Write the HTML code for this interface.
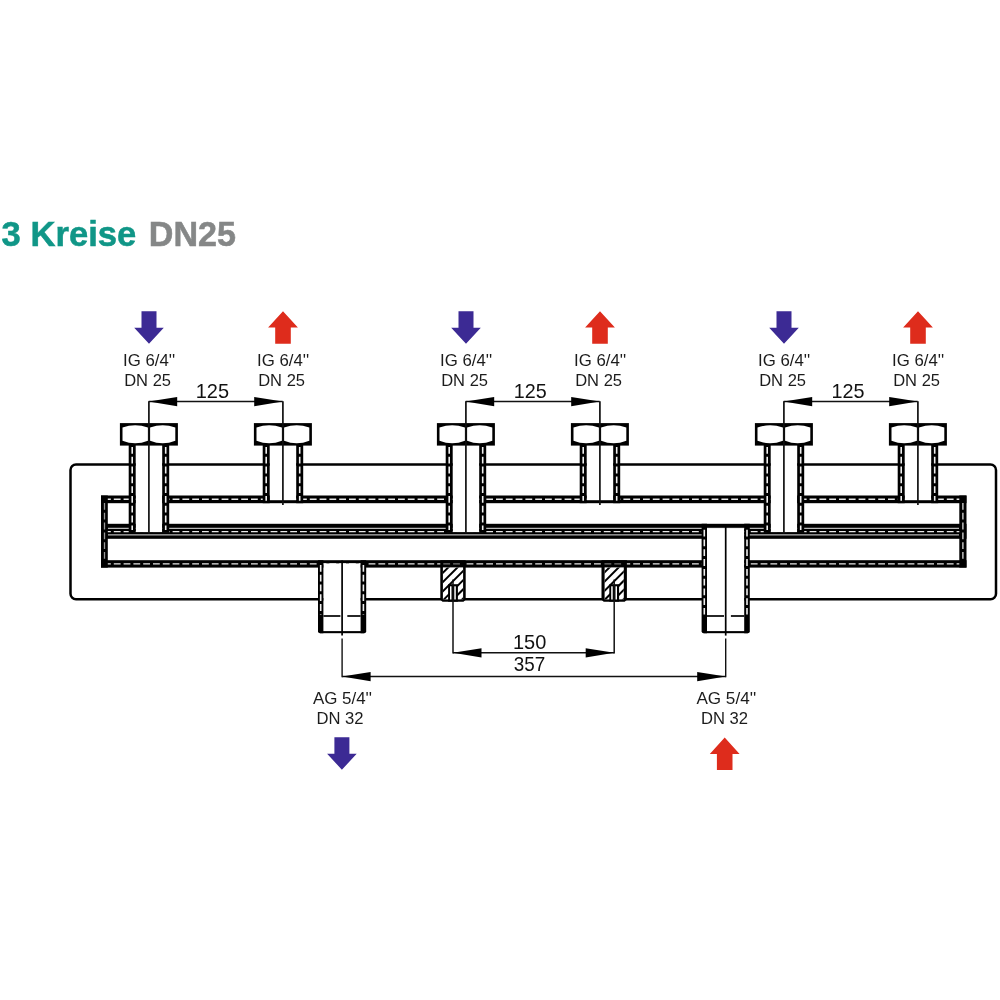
<!DOCTYPE html>
<html><head><meta charset="utf-8"><style>
html,body{margin:0;padding:0;background:#fff;width:1000px;height:1000px;overflow:hidden}
svg{display:block;will-change:transform}
text{font-family:"Liberation Sans",sans-serif}
</style></head><body>
<svg width="1000" height="1000" viewBox="0 0 1000 1000">
<text x="1.6" y="245.75" textLength="134.72" lengthAdjust="spacingAndGlyphs" style="font-size:35.4px;font-weight:bold" fill="#109687" stroke="#109687" stroke-width="0.55">3 Kreise</text>
<text x="148.8" y="245.75" textLength="87.13" lengthAdjust="spacingAndGlyphs" style="font-size:35.4px;font-weight:bold" fill="#858787" stroke="#858787" stroke-width="0.55">DN25</text>
<rect x="70.5" y="464.4" width="925.5" height="134.9" rx="5.5" ry="5.5" fill="none" stroke="#000" stroke-width="2.5"/>
<rect x="101" y="495.5" width="865.5" height="7.7" fill="#000"/>
<line x1="104" y1="499.2" x2="962" y2="499.2" stroke="#e8e8e8" stroke-width="1.4" stroke-dasharray="6.8 3"/>
<rect x="101" y="523.8" width="865.5" height="15.0" fill="#000"/>
<line x1="107.8" y1="528.3" x2="959" y2="528.3" stroke="#fff" stroke-width="0.9"/>
<line x1="104" y1="531.6" x2="962" y2="531.6" stroke="#e8e8e8" stroke-width="1.4" stroke-dasharray="6.8 3"/>
<line x1="107.8" y1="534.9" x2="959" y2="534.9" stroke="#fff" stroke-width="0.9"/>
<rect x="101" y="560.2" width="865.5" height="7.4" fill="#000"/>
<line x1="104" y1="563.9" x2="962" y2="563.9" stroke="#e8e8e8" stroke-width="1.4" stroke-dasharray="6.8 3"/>
<rect x="101" y="495.5" width="6.8" height="72.1" fill="#000"/>
<rect x="959.3" y="495.5" width="7.2" height="72.1" fill="#000"/>
<line x1="104.5" y1="503" x2="104.5" y2="560" stroke="#999" stroke-width="1.3" stroke-dasharray="6.8 3"/>
<line x1="962.9" y1="503" x2="962.9" y2="560" stroke="#ddd" stroke-width="1.3" stroke-dasharray="6.8 3"/>
<rect x="135.7" y="446" width="26.5" height="86.4" fill="#fff"/>
<rect x="128.7" y="445" width="7.0" height="87.4" fill="#000"/>
<rect x="162.2" y="445" width="7.0" height="87.4" fill="#000"/>
<line x1="132.2" y1="447" x2="132.2" y2="529.9" stroke="#f0f0f0" stroke-width="1.6" stroke-dasharray="6.8 3"/>
<line x1="165.7" y1="447" x2="165.7" y2="529.9" stroke="#f0f0f0" stroke-width="1.6" stroke-dasharray="6.8 3"/>
<rect x="128.7" y="532.2" width="40.5" height="1.4" fill="#000"/>
<rect x="269.7" y="446" width="26.5" height="54.2" fill="#fff"/>
<rect x="262.7" y="445" width="7.0" height="58.2" fill="#000"/>
<rect x="296.2" y="445" width="7.0" height="58.2" fill="#000"/>
<line x1="266.2" y1="447" x2="266.2" y2="500.7" stroke="#f0f0f0" stroke-width="1.6" stroke-dasharray="6.8 3"/>
<line x1="299.7" y1="447" x2="299.7" y2="500.7" stroke="#f0f0f0" stroke-width="1.6" stroke-dasharray="6.8 3"/>
<rect x="452.7" y="446" width="26.5" height="86.4" fill="#fff"/>
<rect x="445.7" y="445" width="7.0" height="87.4" fill="#000"/>
<rect x="479.2" y="445" width="7.0" height="87.4" fill="#000"/>
<line x1="449.2" y1="447" x2="449.2" y2="529.9" stroke="#f0f0f0" stroke-width="1.6" stroke-dasharray="6.8 3"/>
<line x1="482.7" y1="447" x2="482.7" y2="529.9" stroke="#f0f0f0" stroke-width="1.6" stroke-dasharray="6.8 3"/>
<rect x="445.7" y="532.2" width="40.5" height="1.4" fill="#000"/>
<rect x="586.7" y="446" width="26.5" height="54.2" fill="#fff"/>
<rect x="579.7" y="445" width="7.0" height="58.2" fill="#000"/>
<rect x="613.2" y="445" width="7.0" height="58.2" fill="#000"/>
<line x1="583.2" y1="447" x2="583.2" y2="500.7" stroke="#f0f0f0" stroke-width="1.6" stroke-dasharray="6.8 3"/>
<line x1="616.7" y1="447" x2="616.7" y2="500.7" stroke="#f0f0f0" stroke-width="1.6" stroke-dasharray="6.8 3"/>
<rect x="770.7" y="446" width="26.5" height="86.4" fill="#fff"/>
<rect x="763.7" y="445" width="7.0" height="87.4" fill="#000"/>
<rect x="797.2" y="445" width="7.0" height="87.4" fill="#000"/>
<line x1="767.2" y1="447" x2="767.2" y2="529.9" stroke="#f0f0f0" stroke-width="1.6" stroke-dasharray="6.8 3"/>
<line x1="800.7" y1="447" x2="800.7" y2="529.9" stroke="#f0f0f0" stroke-width="1.6" stroke-dasharray="6.8 3"/>
<rect x="763.7" y="532.2" width="40.5" height="1.4" fill="#000"/>
<rect x="904.7" y="446" width="26.5" height="54.2" fill="#fff"/>
<rect x="897.7" y="445" width="7.0" height="58.2" fill="#000"/>
<rect x="931.2" y="445" width="7.0" height="58.2" fill="#000"/>
<line x1="901.2" y1="447" x2="901.2" y2="500.7" stroke="#f0f0f0" stroke-width="1.6" stroke-dasharray="6.8 3"/>
<line x1="934.7" y1="447" x2="934.7" y2="500.7" stroke="#f0f0f0" stroke-width="1.6" stroke-dasharray="6.8 3"/>
<rect x="323.4" y="563.4" width="37.2" height="68.6" fill="#fff"/>
<path d="M318,560.2 H323.4 V633.2 H320 Q318,633.2 318,631.2 Z" fill="#000"/>
<path d="M360.6,560.2 H366.2 V631.2 Q366.2,633.2 364.2,633.2 H360.6 Z" fill="#000"/>
<line x1="320.7" y1="564.9" x2="320.7" y2="614.5" stroke="#f0f0f0" stroke-width="1.6" stroke-dasharray="6.8 3"/>
<line x1="363.4" y1="564.9" x2="363.4" y2="614.5" stroke="#f0f0f0" stroke-width="1.6" stroke-dasharray="6.8 3"/>
<rect x="320" y="631.1" width="44.2" height="2.1" fill="#000"/>
<line x1="323.4" y1="616.0" x2="340.4" y2="616.0" stroke="#000" stroke-width="1.7"/>
<line x1="347.3" y1="616.0" x2="360.6" y2="616.0" stroke="#000" stroke-width="1.7"/>
<line x1="342.1" y1="560.4" x2="342.1" y2="635.6" stroke="#000" stroke-width="1.7"/>
<line x1="342.1" y1="638.4" x2="342.1" y2="677.2" stroke="#111" stroke-width="1.4"/>
<rect x="707.0" y="528.2" width="37.2" height="103.8" fill="#fff"/>
<path d="M701.6,523.8 H707.0 V633.2 H703.6 Q701.6,633.2 701.6,631.2 Z" fill="#000"/>
<path d="M744.2,523.8 H749.8000000000001 V631.2 Q749.8000000000001,633.2 747.8000000000001,633.2 H744.2 Z" fill="#000"/>
<line x1="704.3" y1="529.7" x2="704.3" y2="614.5" stroke="#f0f0f0" stroke-width="1.6" stroke-dasharray="6.8 3"/>
<line x1="747.0" y1="529.7" x2="747.0" y2="614.5" stroke="#f0f0f0" stroke-width="1.6" stroke-dasharray="6.8 3"/>
<rect x="703.6" y="631.1" width="44.2" height="2.1" fill="#000"/>
<line x1="707.0" y1="616.0" x2="724.0" y2="616.0" stroke="#000" stroke-width="1.7"/>
<line x1="730.9" y1="616.0" x2="744.2" y2="616.0" stroke="#000" stroke-width="1.7"/>
<line x1="725.7" y1="525.2" x2="725.7" y2="635.6" stroke="#000" stroke-width="1.7"/>
<line x1="725.7" y1="638.4" x2="725.7" y2="677.2" stroke="#111" stroke-width="1.4"/>
<clipPath id="pc453"><rect x="442.90000000000003" y="567.4" width="20.199999999999978" height="32.00000000000007"/></clipPath>
<path d="M440.3,560.2 H465.7 V599.7 L463.5,601.7 H442.5 L440.3,599.7 Z" fill="#000"/>
<rect x="442.9" y="567.4" width="20.2" height="32.0" fill="#fff"/>
<line x1="443.3" y1="563.9" x2="462.7" y2="563.9" stroke="#777" stroke-width="1.2" stroke-dasharray="6.8 3"/>
<g clip-path="url(#pc453)"><line x1="440.3" y1="575.4" x2="465.3" y2="550.4" stroke="#000" stroke-width="2.0"/><line x1="440.3" y1="584.5999999999999" x2="465.3" y2="559.5999999999999" stroke="#000" stroke-width="2.0"/><line x1="440.3" y1="593.8" x2="465.3" y2="568.8" stroke="#000" stroke-width="2.0"/><line x1="440.3" y1="603.0" x2="465.3" y2="578.0" stroke="#000" stroke-width="2.0"/><line x1="440.3" y1="612.1999999999999" x2="465.3" y2="587.1999999999999" stroke="#000" stroke-width="2.0"/><line x1="440.3" y1="621.4" x2="465.3" y2="596.4" stroke="#000" stroke-width="2.0"/><line x1="440.3" y1="630.5999999999999" x2="465.3" y2="605.5999999999999" stroke="#000" stroke-width="2.0"/><line x1="440.3" y1="639.8" x2="465.3" y2="614.8" stroke="#000" stroke-width="2.0"/><line x1="440.3" y1="649.0" x2="465.3" y2="624.0" stroke="#000" stroke-width="2.0"/><line x1="440.3" y1="658.1999999999999" x2="465.3" y2="633.1999999999999" stroke="#000" stroke-width="2.0"/></g>
<rect x="448.1" y="584.2" width="9.8" height="17.5" fill="#000"/>
<rect x="450.0" y="586.3" width="1.5" height="13.2" fill="#fff"/>
<rect x="454.3" y="586.3" width="1.5" height="13.2" fill="#fff"/>
<line x1="453" y1="579.5" x2="453" y2="653.4" stroke="#111" stroke-width="1.5"/>
<clipPath id="pc614"><rect x="604.6" y="567.4" width="19.20000000000009" height="32.00000000000007"/></clipPath>
<path d="M601.5,560.2 H626.9000000000001 V599.7 L624.7,601.7 H603.7 L601.5,599.7 Z" fill="#000"/>
<rect x="604.6" y="567.4" width="19.2" height="32.0" fill="#fff"/>
<line x1="604.5" y1="563.9" x2="623.9000000000001" y2="563.9" stroke="#777" stroke-width="1.2" stroke-dasharray="6.8 3"/>
<g clip-path="url(#pc614)"><line x1="601.5" y1="575.4" x2="626.5" y2="550.4" stroke="#000" stroke-width="2.0"/><line x1="601.5" y1="584.5999999999999" x2="626.5" y2="559.5999999999999" stroke="#000" stroke-width="2.0"/><line x1="601.5" y1="593.8" x2="626.5" y2="568.8" stroke="#000" stroke-width="2.0"/><line x1="601.5" y1="603.0" x2="626.5" y2="578.0" stroke="#000" stroke-width="2.0"/><line x1="601.5" y1="612.1999999999999" x2="626.5" y2="587.1999999999999" stroke="#000" stroke-width="2.0"/><line x1="601.5" y1="621.4" x2="626.5" y2="596.4" stroke="#000" stroke-width="2.0"/><line x1="601.5" y1="630.5999999999999" x2="626.5" y2="605.5999999999999" stroke="#000" stroke-width="2.0"/><line x1="601.5" y1="639.8" x2="626.5" y2="614.8" stroke="#000" stroke-width="2.0"/><line x1="601.5" y1="649.0" x2="626.5" y2="624.0" stroke="#000" stroke-width="2.0"/><line x1="601.5" y1="658.1999999999999" x2="626.5" y2="633.1999999999999" stroke="#000" stroke-width="2.0"/></g>
<rect x="609.3" y="584.2" width="9.8" height="17.5" fill="#000"/>
<rect x="611.2" y="586.3" width="1.5" height="13.2" fill="#fff"/>
<rect x="615.5" y="586.3" width="1.5" height="13.2" fill="#fff"/>
<line x1="614.2" y1="579.5" x2="614.2" y2="653.4" stroke="#111" stroke-width="1.5"/>
<rect x="119.9" y="423.1" width="58.0" height="22.5" fill="#000"/>
<path d="M122.5,427.6 Q135.2,423.0 147.9,427.6 V440.8 Q135.2,445.8 122.5,440.8 Z" fill="#fff"/>
<path d="M150.1,427.6 Q162.7,423.0 175.3,427.6 V440.8 Q162.7,445.8 150.1,440.8 Z" fill="#fff"/>
<rect x="253.9" y="423.1" width="58.0" height="22.5" fill="#000"/>
<path d="M256.5,427.6 Q269.2,423.0 281.9,427.6 V440.8 Q269.2,445.8 256.5,440.8 Z" fill="#fff"/>
<path d="M284.1,427.6 Q296.7,423.0 309.29999999999995,427.6 V440.8 Q296.7,445.8 284.1,440.8 Z" fill="#fff"/>
<rect x="436.9" y="423.1" width="58.0" height="22.5" fill="#000"/>
<path d="M439.5,427.6 Q452.2,423.0 464.9,427.6 V440.8 Q452.2,445.8 439.5,440.8 Z" fill="#fff"/>
<path d="M467.1,427.6 Q479.7,423.0 492.29999999999995,427.6 V440.8 Q479.7,445.8 467.1,440.8 Z" fill="#fff"/>
<rect x="570.9" y="423.1" width="58.0" height="22.5" fill="#000"/>
<path d="M573.5,427.6 Q586.2,423.0 598.9,427.6 V440.8 Q586.2,445.8 573.5,440.8 Z" fill="#fff"/>
<path d="M601.1,427.6 Q613.7,423.0 626.3,427.6 V440.8 Q613.7,445.8 601.1,440.8 Z" fill="#fff"/>
<rect x="754.9" y="423.1" width="58.0" height="22.5" fill="#000"/>
<path d="M757.5,427.6 Q770.2,423.0 782.9,427.6 V440.8 Q770.2,445.8 757.5,440.8 Z" fill="#fff"/>
<path d="M785.1,427.6 Q797.7,423.0 810.3,427.6 V440.8 Q797.7,445.8 785.1,440.8 Z" fill="#fff"/>
<rect x="888.9" y="423.1" width="58.0" height="22.5" fill="#000"/>
<path d="M891.5,427.6 Q904.2,423.0 916.9,427.6 V440.8 Q904.2,445.8 891.5,440.8 Z" fill="#fff"/>
<path d="M919.1,427.6 Q931.7,423.0 944.3,427.6 V440.8 Q931.7,445.8 919.1,440.8 Z" fill="#fff"/>
<line x1="148.9" y1="401.2" x2="148.9" y2="533.5" stroke="#111" stroke-width="1.7"/>
<line x1="282.9" y1="401.2" x2="282.9" y2="505.0" stroke="#111" stroke-width="1.7"/>
<line x1="465.9" y1="401.2" x2="465.9" y2="533.5" stroke="#111" stroke-width="1.7"/>
<line x1="599.9" y1="401.2" x2="599.9" y2="505.0" stroke="#111" stroke-width="1.7"/>
<line x1="783.9" y1="401.2" x2="783.9" y2="533.5" stroke="#111" stroke-width="1.7"/>
<line x1="917.9" y1="401.2" x2="917.9" y2="505.0" stroke="#111" stroke-width="1.7"/>
<path d="M141.5,311.2 H156.5 V327.7 H163.8 L149,343.7 L134.2,327.7 H141.5 Z" fill="#3c2a94"/>
<text x="123.1" y="365.9" textLength="52.18" lengthAdjust="spacingAndGlyphs" style="font-size:16.6px;font-weight:normal" fill="#1c1c1c" >IG 6/4''</text>
<text x="124.2" y="385.7" textLength="46.85" lengthAdjust="spacingAndGlyphs" style="font-size:16.6px;font-weight:normal" fill="#1c1c1c" >DN 25</text>
<path d="M283,311.2 L297.9,327.5 H290.8 V343.7 H275.2 V327.5 H268.1 Z" fill="#de2c1c"/>
<text x="257.1" y="365.9" textLength="52.18" lengthAdjust="spacingAndGlyphs" style="font-size:16.6px;font-weight:normal" fill="#1c1c1c" >IG 6/4''</text>
<text x="258.2" y="385.7" textLength="46.85" lengthAdjust="spacingAndGlyphs" style="font-size:16.6px;font-weight:normal" fill="#1c1c1c" >DN 25</text>
<path d="M458.5,311.2 H473.5 V327.7 H480.8 L466,343.7 L451.2,327.7 H458.5 Z" fill="#3c2a94"/>
<text x="440.1" y="365.9" textLength="52.18" lengthAdjust="spacingAndGlyphs" style="font-size:16.6px;font-weight:normal" fill="#1c1c1c" >IG 6/4''</text>
<text x="441.2" y="385.7" textLength="46.85" lengthAdjust="spacingAndGlyphs" style="font-size:16.6px;font-weight:normal" fill="#1c1c1c" >DN 25</text>
<path d="M600,311.2 L614.9,327.5 H607.8 V343.7 H592.2 V327.5 H585.1 Z" fill="#de2c1c"/>
<text x="574.1" y="365.9" textLength="52.18" lengthAdjust="spacingAndGlyphs" style="font-size:16.6px;font-weight:normal" fill="#1c1c1c" >IG 6/4''</text>
<text x="575.2" y="385.7" textLength="46.85" lengthAdjust="spacingAndGlyphs" style="font-size:16.6px;font-weight:normal" fill="#1c1c1c" >DN 25</text>
<path d="M776.5,311.2 H791.5 V327.7 H798.8 L784,343.7 L769.2,327.7 H776.5 Z" fill="#3c2a94"/>
<text x="758.1" y="365.9" textLength="52.18" lengthAdjust="spacingAndGlyphs" style="font-size:16.6px;font-weight:normal" fill="#1c1c1c" >IG 6/4''</text>
<text x="759.2" y="385.7" textLength="46.85" lengthAdjust="spacingAndGlyphs" style="font-size:16.6px;font-weight:normal" fill="#1c1c1c" >DN 25</text>
<path d="M918,311.2 L932.9,327.5 H925.8 V343.7 H910.2 V327.5 H903.1 Z" fill="#de2c1c"/>
<text x="892.1" y="365.9" textLength="52.18" lengthAdjust="spacingAndGlyphs" style="font-size:16.6px;font-weight:normal" fill="#1c1c1c" >IG 6/4''</text>
<text x="893.2" y="385.7" textLength="46.85" lengthAdjust="spacingAndGlyphs" style="font-size:16.6px;font-weight:normal" fill="#1c1c1c" >DN 25</text>
<path d="M334.4,737.2 H349.4 V753.7 H356.7 L341.9,769.7 L327.09999999999997,753.7 H334.4 Z" fill="#3c2a94"/>
<text x="312.9" y="703.5" textLength="59.21" lengthAdjust="spacingAndGlyphs" style="font-size:16.2px;font-weight:normal" fill="#1c1c1c" >AG 5/4''</text>
<text x="316.4" y="723.6" textLength="47.16" lengthAdjust="spacingAndGlyphs" style="font-size:16.6px;font-weight:normal" fill="#1c1c1c" >DN 32</text>
<path d="M724.7,737.6 L739.6,753.9 H732.5 V770.1 H716.9000000000001 V753.9 H709.8000000000001 Z" fill="#de2c1c"/>
<text x="696.4" y="703.5" textLength="59.82" lengthAdjust="spacingAndGlyphs" style="font-size:16.2px;font-weight:normal" fill="#1c1c1c" >AG 5/4''</text>
<text x="700.9" y="723.8" textLength="47.16" lengthAdjust="spacingAndGlyphs" style="font-size:16.6px;font-weight:normal" fill="#1c1c1c" >DN 32</text>
<line x1="148.7" y1="401.6" x2="282.7" y2="401.6" stroke="#111" stroke-width="1.5"/>
<path d="M148.7,401.6 L177.2,397.0 V406.20000000000005 Z" fill="#000"/>
<path d="M282.7,401.6 L254.2,397.0 V406.20000000000005 Z" fill="#000"/>
<line x1="465.7" y1="401.6" x2="599.7" y2="401.6" stroke="#111" stroke-width="1.5"/>
<path d="M465.7,401.6 L494.2,397.0 V406.20000000000005 Z" fill="#000"/>
<path d="M599.7,401.6 L571.2,397.0 V406.20000000000005 Z" fill="#000"/>
<line x1="783.7" y1="401.6" x2="917.7" y2="401.6" stroke="#111" stroke-width="1.5"/>
<path d="M783.7,401.6 L812.2,397.0 V406.20000000000005 Z" fill="#000"/>
<path d="M917.7,401.6 L889.2,397.0 V406.20000000000005 Z" fill="#000"/>
<text x="195.75" y="398.0" textLength="33.33" lengthAdjust="spacingAndGlyphs" style="font-size:20.6px;font-weight:normal" fill="#111" >125</text>
<text x="513.8" y="398.3" textLength="32.92" lengthAdjust="spacingAndGlyphs" style="font-size:20.6px;font-weight:normal" fill="#111" >125</text>
<text x="831.4" y="398.3" textLength="33.02" lengthAdjust="spacingAndGlyphs" style="font-size:20.6px;font-weight:normal" fill="#111" >125</text>
<line x1="453" y1="652.8" x2="614.2" y2="652.8" stroke="#111" stroke-width="1.5"/>
<path d="M453,652.8 L481.5,648.1999999999999 V657.4 Z" fill="#000"/>
<path d="M614.2,652.8 L585.7,648.1999999999999 V657.4 Z" fill="#000"/>
<text x="513.0" y="648.7" textLength="33.33" lengthAdjust="spacingAndGlyphs" style="font-size:20.6px;font-weight:normal" fill="#111" >150</text>
<line x1="342.1" y1="676.6" x2="725.7" y2="676.6" stroke="#111" stroke-width="1.5"/>
<path d="M342.1,676.6 L370.6,672.0 V681.2 Z" fill="#000"/>
<path d="M725.7,676.6 L697.2,672.0 V681.2 Z" fill="#000"/>
<text x="513.8" y="671.2" textLength="31.45" lengthAdjust="spacingAndGlyphs" style="font-size:20.2px;font-weight:normal" fill="#111" >357</text>
</svg>
</body></html>
